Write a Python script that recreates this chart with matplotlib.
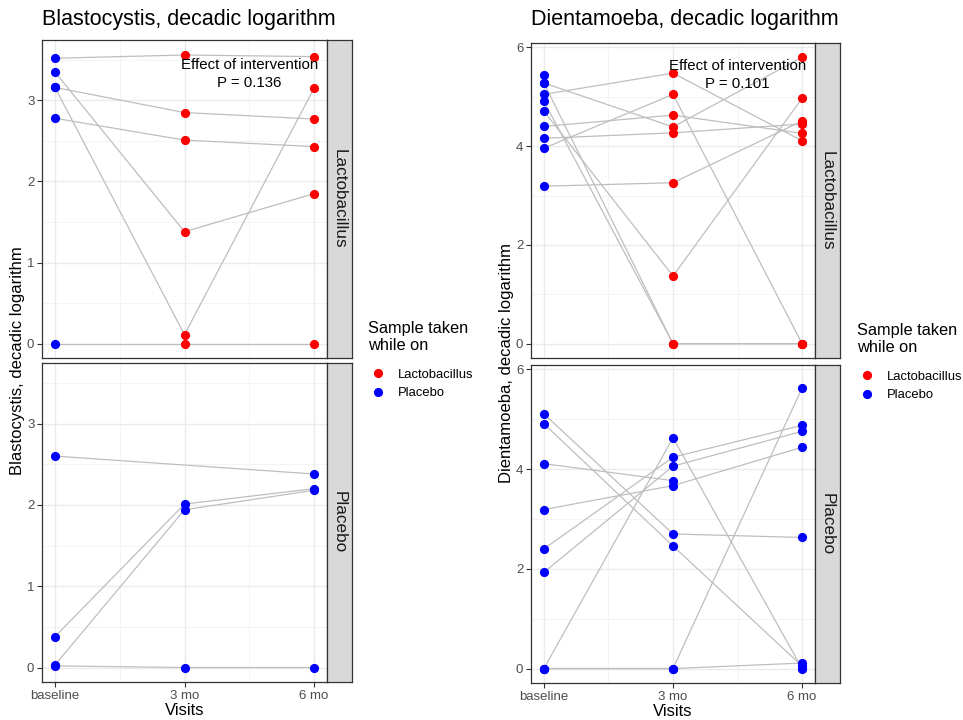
import numpy as np
import matplotlib
matplotlib.use("Agg")
import matplotlib.pyplot as plt
from matplotlib.lines import Line2D

plt.rcParams['font.family'] = ['Liberation Sans', 'DejaVu Sans']

nan = np.nan

# visits (months) and their labels
visits = [0, 3, 6]
visit_labels = ["baseline", "3 mo", "6 mo"]

# treatment taken at each visit, per facet
lacto_arm_treat = ["Placebo", "Lactobacillus", "Lactobacillus"]
placebo_arm_treat = ["Placebo", "Placebo", "Placebo"]

# Blastocystis, log10 values per subject: [baseline, 3 mo, 6 mo]
blasto_lacto = [
    [3.52, 3.56, 3.54],
    [3.35, 1.38, 1.85],
    [3.16, 0.11, 3.15],
    [3.16, 2.85, 2.77],
    [2.78, 2.51, 2.43],
    [0.00, 0.00, 0.00],
]
blasto_placebo = [
    [2.60, nan, 2.38],
    [0.38, 2.01, 2.20],
    [0.03, 1.94, 2.18],
    [0.02, 0.00, 0.00],
]

# Dientamoeba, log10 values per subject
dient_lacto = [
    [5.44, nan, nan],
    [5.28, 4.39, 5.80],
    [5.28, 0.00, 0.00],
    [5.05, 5.48, 4.11],
    [4.91, 0.00, 0.00],
    [4.71, 1.37, 4.97],
    [4.40, 4.63, 4.26],
    [4.16, 4.27, 4.45],
    [3.96, 5.05, 0.00],
    [3.19, 3.26, 4.51],
]
dient_placebo = [
    [5.11, 2.70, 2.63],
    [4.91, 2.46, 0.05],
    [4.11, 3.77, nan],
    [3.19, 3.67, 4.44],
    [2.40, 4.24, 4.88],
    [1.93, 4.06, 4.76],
    [0.00, 4.63, 0.00],
    [0.00, 0.00, 5.63],
    [0.00, 0.00, 0.11],
]

p_blasto = "0.136"
p_dient = "0.101"

treat_colors = {"Lactobacillus": "#FF0000", "Placebo": "#0000FF"}

W, H = 963, 720
fig = plt.figure(figsize=(W / 100, H / 100), dpi=100)


def box(x0, y0, x1, y1):
    return [x0 / W, 1 - y1 / H, (x1 - x0) / W, (y1 - y0) / H]


def draw_facet(ax, data, treat, ylim, major, minor, show_x):
    for subj in data:
        vals = np.array(subj, dtype=float)
        ok = ~np.isnan(vals)
        xs = np.array(visits)[ok]
        ax.plot(xs, vals[ok], color="#BEBEBE", lw=0.9, zorder=2)
    for subj in data:
        for v, y, t in zip(visits, subj, treat):
            if not np.isnan(y):
                ax.plot(v, y, "o", color=treat_colors[t], ms=5.6, zorder=3)
    ax.set_xlim(-0.3, 6.3)
    ax.set_ylim(*ylim)
    ax.set_xticks(visits)
    ax.set_xticks([1.5, 4.5], minor=True)
    ax.set_yticks(major)
    ax.set_yticks(minor, minor=True)
    ax.grid(which="major", color="#EBEBEB", lw=1.0, zorder=0)
    ax.grid(which="minor", color="#F2F2F2", lw=0.6, zorder=0)
    ax.set_axisbelow(True)
    for s in ax.spines.values():
        s.set_color("#333333")
        s.set_linewidth(0.9)
    ax.tick_params(which="minor", length=0)
    ax.tick_params(which="major", length=3.5, width=0.8, color="#333333",
                   labelcolor="#4D4D4D", labelsize=9.5, pad=2)
    if show_x:
        ax.set_xticklabels(visit_labels)
    else:
        ax.tick_params(axis="x", which="major", length=0, labelbottom=False)


def draw_strip(rect, label):
    sax = fig.add_axes(box(*rect))
    sax.set_facecolor("#D9D9D9")
    sax.set_xticks([])
    sax.set_yticks([])
    for s in sax.spines.values():
        s.set_color("#333333")
        s.set_linewidth(0.9)
    sax.text(0.5, 0.5, label, rotation=-90, ha="center", va="center",
             fontsize=12.3, color="#1A1A1A", transform=sax.transAxes)


def draw_panel(x0, x1, tops, bots, title, ylabel, lacto, placebo, ylim,
               major, minor, ptxt, pxy, leg_xy):
    ax1 = fig.add_axes(box(x0, tops[0], x1, bots[0]))
    draw_facet(ax1, lacto, lacto_arm_treat, ylim, major, minor, False)
    ax2 = fig.add_axes(box(x0, tops[1], x1, bots[1]))
    draw_facet(ax2, placebo, placebo_arm_treat, ylim, major, minor, True)
    draw_strip((x1, tops[0], x1 + 25, bots[0]), "Lactobacillus")
    draw_strip((x1, tops[1], x1 + 25, bots[1]), "Placebo")
    ax1.text(pxy[0], pxy[1], "Effect of intervention\nP = " + ptxt,
             ha="center", va="center", fontsize=10.8, linespacing=1.35,
             color="black", zorder=4)
    fig.text(x0 / W, 1 - 20 / H, title, fontsize=15.5, ha="left",
             va="center")
    ax2.set_xlabel("Visits", fontsize=12, labelpad=1)
    fig.text((x0 - 24) / W, 1 - ((tops[0] + bots[1]) / 2) / H, ylabel,
             rotation=90, fontsize=12, ha="center", va="center")
    handles = [Line2D([], [], ls="none", marker="o", ms=5.6,
                      color=treat_colors[k]) for k in ["Lactobacillus", "Placebo"]]
    leg = fig.legend(handles, ["Lactobacillus", "Placebo"],
                     title="Sample taken\nwhile on", loc="upper left",
                     bbox_to_anchor=(leg_xy[0] / W, 1 - leg_xy[1] / H),
                     frameon=False, fontsize=9.4, title_fontsize=11.8,
                     handletextpad=0.7, handlelength=1.6, labelspacing=0.5,
                     borderaxespad=0, borderpad=0)
    leg._legend_box.align = "left"
    leg._legend_box.sep = 11


draw_panel(42, 327, (40, 363), (358, 682),
           "Blastocystis, decadic logarithm",
           "Blastocystis, decadic logarithm",
           blasto_lacto, blasto_placebo, (-0.178, 3.745),
           [0, 1, 2, 3], [0.5, 1.5, 2.5, 3.5], p_blasto, (4.5, 3.33),
           (368, 321))
draw_panel(531, 815, (43, 365), (358, 683),
           "Dientamoeba, decadic logarithm",
           "Dientamoeba, decadic logarithm",
           dient_lacto, dient_placebo, (-0.29, 6.09),
           [0, 2, 4, 6], [1, 3, 5], p_dient, (4.5, 5.44),
           (857, 323))

fig.savefig("out.png", dpi=100)
